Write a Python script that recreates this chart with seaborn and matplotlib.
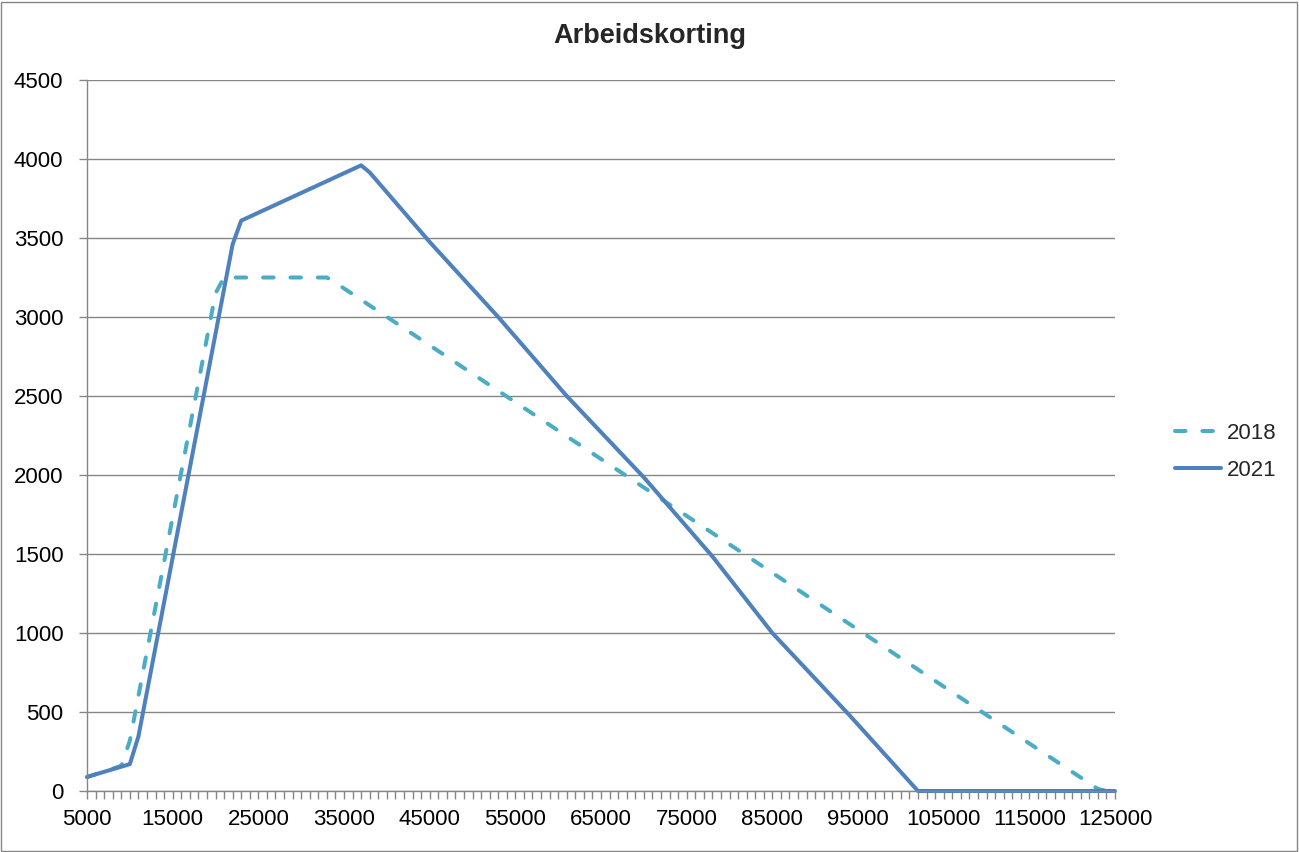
import matplotlib
matplotlib.use("Agg")
import matplotlib.pyplot as plt
from matplotlib.patches import Rectangle
from matplotlib.ticker import FixedLocator
import seaborn as sns
import pandas as pd

# values (income -> korting)
inkomen_2018 = [5000, 9000, 10000, 20000, 21000, 33000, 34000, 123000, 124000, 125000]
korting_2018 = [88, 159, 318, 3150, 3250, 3250, 3217, 13, 0, 0]

inkomen_2021 = [5000, 10000, 11000, 22000, 23000, 37000, 38000, 45000, 53000,
                61000, 70000, 78000, 85000, 94000, 100000, 102000, 125000]
korting_2021 = [89, 170, 345, 3460, 3610, 3960, 3915, 3475, 3000,
                2500, 1985, 1485, 1000, 480, 120, 0, 0]

x_labels = [5000, 15000, 25000, 35000, 45000, 55000, 65000, 75000,
            85000, 95000, 105000, 115000, 125000]
y_labels = [0, 500, 1000, 1500, 2000, 2500, 3000, 3500, 4000, 4500]

df = pd.concat([
    pd.DataFrame({"inkomen": inkomen_2018, "korting": korting_2018, "jaar": "2018"}),
    pd.DataFrame({"inkomen": inkomen_2021, "korting": korting_2021, "jaar": "2021"}),
])

sns.set_style("white")
plt.rcParams["font.family"] = ["Liberation Sans", "DejaVu Sans"]

grey = "#868686"
fig = plt.figure(figsize=(12.99, 8.52), dpi=100)
ax = fig.add_axes([87 / 1299, 1 - 791 / 852, (1115 - 87) / 1299, (791 - 80) / 852])

sub = df[df["jaar"] == "2018"]
sns.lineplot(data=sub, x="inkomen", y="korting", ax=ax, color="#4BACC6",
             linewidth=2.9, label="2018", dashes=False)
ax.lines[-1].set_dashes((2.6, 4.2))
ax.lines[-1].set_dash_capstyle("round")
sub = df[df["jaar"] == "2021"]
sns.lineplot(data=sub, x="inkomen", y="korting", ax=ax, color="#4F81BD",
             linewidth=2.9, label="2021")
for ln in ax.lines:
    ln.set_clip_on(False)
    ln.set_solid_capstyle("round")
    ln.set_solid_joinstyle("round")

ax.set_xlim(5000, 125000)
ax.set_ylim(0, 4500)
ax.xaxis.set_major_locator(FixedLocator(x_labels))
ax.xaxis.set_minor_locator(FixedLocator(list(range(5000, 125001, 1000))))
ax.set_xticklabels([str(v) for v in x_labels])
ax.set_yticks(y_labels)
ax.set_yticklabels([str(v) for v in y_labels])
ax.set_xlabel("")
ax.set_ylabel("")

ax.grid(axis="y", color=grey, linewidth=1.0)
ax.set_axisbelow(True)
for s in ["top", "right"]:
    ax.spines[s].set_visible(False)
for s in ["left", "bottom"]:
    ax.spines[s].set_color(grey)
    ax.spines[s].set_linewidth(1.0)
ax.tick_params(axis="both", which="both", direction="out", length=6, width=1,
               color=grey, labelsize=16, labelcolor="black")
ax.tick_params(axis="x", which="both", pad=7, bottom=True)
ax.tick_params(axis="y", pad=11, left=True)

ax.get_legend().remove()
handles, labels = ax.get_legend_handles_labels()
fig.legend(handles, labels, loc="center left", bbox_to_anchor=(1175 / 1299, 1 - 452 / 852),
           frameon=False, fontsize=16, handlelength=2.05, handletextpad=0.3,
           borderpad=0, borderaxespad=0, labelspacing=0.7)

fig.text(0.5, 1 - 36 / 852, "Arbeidskorting", ha="center", va="center",
         fontsize=19.5, fontweight="bold")

fig.patches.append(Rectangle((0.5 / 1299, 1.5 / 852), 1 - 2.5 / 1299, 1 - 3 / 852,
                             transform=fig.transFigure, fill=False,
                             edgecolor=grey, linewidth=1.0))

fig.savefig("out.png", dpi=100)
